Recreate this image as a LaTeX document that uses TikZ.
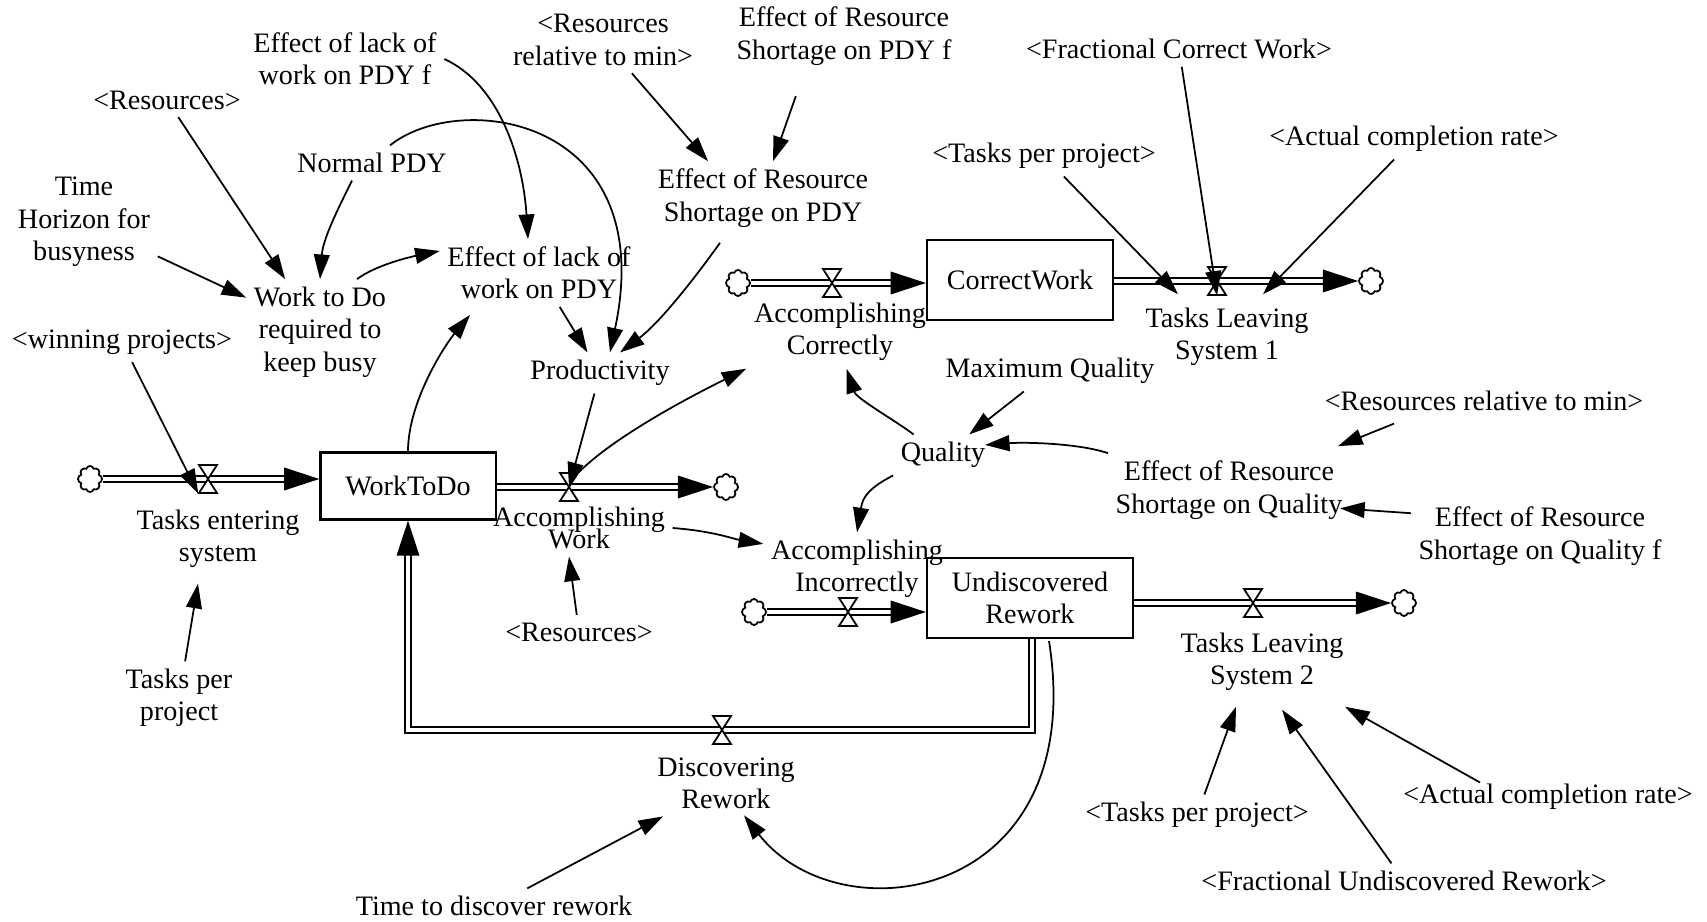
\documentclass[tikz,border=0pt]{standalone}
\usepackage{fontspec}
\setmainfont{Liberation Serif}
\usetikzlibrary{arrows.meta,calc,shapes.symbols}

\begin{document}
\begin{tikzpicture}[
    x=0.01cm, y=-0.01cm,
    font=\fontsize{8}{9.2}\selectfont,
    var/.style={align=center, inner sep=2pt},
    stock/.style={draw, line width=0.6pt, inner sep=0pt, align=center},
    src/.style={cloud, draw, cloud puffs=8, cloud puff arc=150, aspect=0.9, inner sep=0pt,
      minimum width=0.24cm, minimum height=0.26cm, line width=0.5pt},
    vpt/.style={inner sep=0pt, minimum width=0.18cm, minimum height=0.28cm},
    valve/.pic={\draw[fill=white, line width=0.5pt] (-9,-14) -- (9,-14) -- (-9,14) -- (9,14) -- cycle;},
    pipe/.style={double, double distance=1.2pt, line width=0.5pt, -{Triangle[length=10pt, width=6.4pt]}},
    link/.style={line width=0.5pt, -{Triangle[length=7pt, width=4.5pt]}}
  ]
  \useasboundingbox (0,0) rectangle (1707,922);

  % stocks
  \node[stock, minimum width=1.75cm, minimum height=0.67cm] (wtd) at (408,486) {WorkToDo};
  \node[stock, minimum width=1.86cm, minimum height=0.80cm] (cw) at (1020,280) {CorrectWork};
  \node[stock, minimum width=2.06cm, minimum height=0.80cm] (udr) at (1030,598) {Undiscovered\\Rework};

  % sources and sinks
  \node[src] (c1) at (90,479) {};
  \node[src] (c2) at (726,487) {};
  \node[src] (c3) at (738,283) {};
  \node[src] (c4) at (1371,281) {};
  \node[src] (c5) at (754,612) {};
  \node[src] (c6) at (1404,603) {};

  % valves
  \node[vpt] (v1) at (208,479) {};
  \node[vpt] (v2) at (569,487) {};
  \node[vpt] (v3) at (832,283) {};
  \node[vpt] (v4) at (1217,281) {};
  \node[vpt] (v5) at (848,612) {};
  \node[vpt] (v6) at (1253,603) {};
  \node[vpt] (v7) at (722,730) {};

  % flows
  \draw[pipe] (c1) -- (c1 -| wtd.west);
  \draw[pipe] (wtd.east |- v2) -- (c2);
  \draw[pipe] (c3) -- (c3 -| cw.west);
  \draw[pipe] (cw.east |- v4) -- (c4);
  \draw[pipe] (c5) -- (c5 -| udr.west);
  \draw[pipe] (udr.east |- v6) -- (c6);
  \draw[pipe] ($(udr.south)+(2,0)$) |- (v7.center) -| (wtd.south);
  \foreach \i in {1,...,7} \pic at (v\i) {valve};

  % flow names
  \node[var] (tes) at (218,539) {Tasks entering\\system};
  \node[var] (aw) at (579,528) {Accomplishing\\[-3pt]Work};
  \node[var] (ac) at (840,332) {Accomplishing\\Correctly};
  \node[var] (tls1) at (1227,337) {Tasks Leaving\\System 1};
  \node[var] (ai) at (857,569) {Accomplishing\\Incorrectly};
  \node[var] (tls2) at (1262,662) {Tasks Leaving\\System 2};
  \node[var] (dr) at (726,783) {Discovering\\Rework};

  % auxiliaries
  \node[var] (lackf) at (345,59) {Effect of lack of\\work on PDY f};
  \node[var] (resA) at (167,100) {<Resources>};
  \node[var] (npdy) at (372,163) {Normal PDY};
  \node[var] (thb) at (84,222) {Time\\Horizon for\\busyness};
  \node[var] (wtdr) at (320,332) {Work to Do\\required to\\keep busy};
  \node[var] (winp) at (122,342) {<winning projects>};
  \node[var] (lack) at (539,273) {Effect of lack of\\work on PDY};
  \node[var] (rrmA) at (603,40) {<Resources\\relative to min>};
  \node[var] (ersf) at (844,36) {Effect of Resource\\Shortage on PDY f};
  \node[var] (ers) at (763,198) {Effect of Resource\\Shortage on PDY};
  \node[var] (prod) at (600,373) {Productivity};
  \node[var] (fcw) at (1179,49) {<Fractional Correct Work>};
  \node[var] (tppA) at (1044,156) {<Tasks per project>};
  \node[var] (acrA) at (1414,139) {<Actual completion rate>};
  \node[var] (maxq) at (1050,371) {Maximum Quality};
  \node[var] (qual) at (943,455) {Quality};
  \node[var] (rrmB) at (1484,401) {<Resources relative to min>};
  \node[var] (ersq) at (1229,490) {Effect of Resource\\Shortage on Quality};
  \node[var] (ersqf) at (1540,536) {Effect of Resource\\Shortage on Quality f};
  \node[var] (resB) at (579,632) {<Resources>};
  \node[var] (tpp) at (179,698) {Tasks per\\project};
  \node[var] (ttd) at (494,906) {Time to discover rework};
  \node[var] (tppB) at (1197,815) {<Tasks per project>};
  \node[var] (acrB) at (1548,797) {<Actual completion rate>};
  \node[var] (fur) at (1404,881) {<Fractional Undiscovered Rework>};

  % links
  \draw[link] (resA) -- (wtdr);
  \draw[link] ($(npdy.south)+(-20,0)$) .. controls +(-15,30) and +(3,-40) .. (wtdr.north);
  \draw[link] (thb) -- (wtdr);
  \draw[link] (wtdr.55) .. controls +(20,-15) and +(-25,5) .. ($(lack.west)+(0,-22)$);
  \draw[link] (lackf.east) .. controls +(55,25) and +(-5,-80) .. ($(lack.north)+(-11,0)$);
  \draw[link] ($(npdy.north)+(18,0)$) .. controls +(70,-56) and +(50,-236) .. ($(prod.north)+(10,0)$);
  \draw[link] (lack) -- (prod);
  \draw[link] ($(ers.south)+(-43,8)$) .. controls +(-25,35) and +(40,-30) .. ($(prod.north)+(20,0)$);
  \draw[link] (rrmA) -- ($(ers.north)+(-55,0)$);
  \draw[link, shorten <=7pt] ($(ersf.south)+(-40,0)$) -- ($(ers.north)+(10,0)$);
  \draw[link] (wtd.north) .. controls +(0,-50) and +(-25,30) .. ($(lack.south)+(-69,8)$);
  \draw[link] (prod) -- (v2.center);
  \draw[link] (v2.north east) .. controls +(40,-40) and +(-40,20) .. (ac.south west);
  \draw[link] (aw.east) .. controls +(40,3) and +(-30,-5) .. (ai.165);
  \draw[link] (resB) -- ($(aw.south)+(-10,0)$);
  \draw[link] (qual.145) .. controls +(-20,-15) and +(10,30) .. (ac.-80);
  \draw[link] (maxq) -- (qual);
  \draw[link] (ersq.north west) .. controls +(-30,-10) and +(40,-3) .. ($(qual.east)+(-8,-10)$);
  \draw[link] (qual.south west) .. controls +(-30,15) and +(5,-30) .. (ai.north);
  \draw[link] ($(rrmB.south)+(-90,5)$) -- ($(ersq.north east)+(-12,-7)$);
  \draw[link] (ersqf.170) -- ($(ersq.-10)+(-10,-3)$);
  \draw[link] (fcw) -- (v4.south);
  \draw[link] (tppA) -- ($(tls1.north)+(-49,-6)$);
  \draw[link] (acrA) -- ($(tls1.north)+(36,-6)$);
  \draw[link] (tpp) -- ($(tes.south)+(-20,8)$);
  \draw[link] (winp) -- (v1.south west);
  \draw[link] ($(udr.south)+(19,2)$) .. controls +(41,260) and +(96,123) .. ($(dr.south)+(18,-1)$);
  \draw[link] (ttd) -- (dr);
  \draw[link] (tppB) -- ($(tls2.south)+(-26,8)$);
  \draw[link] (fur) -- ($(tls2.south)+(20,11)$);
  \draw[link] ($(acrB.north)+(-68,6)$) -- ($(tls2.south)+(83,8)$);
\end{tikzpicture}
\end{document}
